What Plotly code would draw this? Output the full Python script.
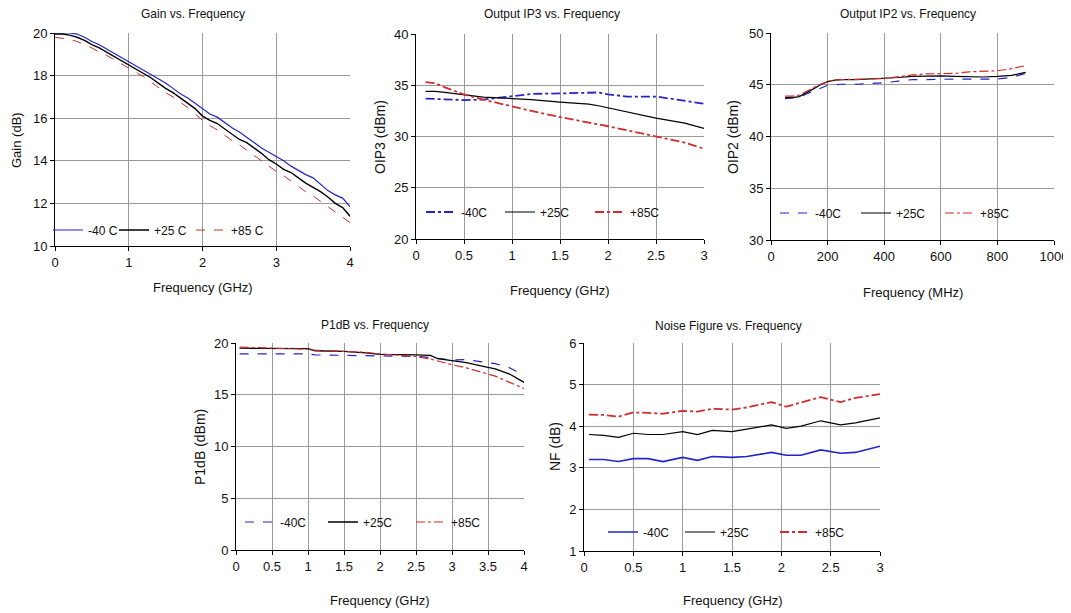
import plotly.graph_objects as go

W, H = 1071, 613
OFF = 8  # page body margin in the browser

# ---------------- data ----------------
gain_x = [round(i * 0.1, 1) for i in range(41)]
gain_m40 = [20.0, 20.0, 20.0, 19.95, 19.8, 19.6, 19.45, 19.25, 19.05, 18.85, 18.65, 18.45, 18.25, 18.05,
            17.85, 17.65, 17.4, 17.15, 16.95, 16.7, 16.45, 16.2, 16.05, 15.8, 15.55, 15.35, 15.1, 14.85,
            14.6, 14.4, 14.2, 14.0, 13.75, 13.55, 13.35, 13.2, 12.9, 12.6, 12.4, 12.25, 11.85]
gain_p25 = [19.95, 19.95, 19.9, 19.8, 19.65, 19.45, 19.3, 19.1, 18.9, 18.7, 18.5, 18.3, 18.1, 17.9,
            17.65, 17.4, 17.2, 16.95, 16.7, 16.45, 16.1, 15.9, 15.75, 15.5, 15.25, 15.0, 14.85, 14.6,
            14.35, 14.05, 13.85, 13.6, 13.45, 13.2, 12.95, 12.75, 12.55, 12.3, 12.0, 11.8, 11.4]
gain_p85 = [19.8, 19.75, 19.7, 19.6, 19.45, 19.3, 19.1, 18.95, 18.75, 18.55, 18.35, 18.15, 17.95, 17.7,
            17.45, 17.2, 17.0, 16.75, 16.5, 16.2, 15.9, 15.65, 15.45, 15.2, 14.95, 14.75, 14.5, 14.25,
            14.0, 13.75, 13.5, 13.3, 13.05, 12.8, 12.55, 12.35, 12.1, 11.85, 11.6, 11.35, 11.1]

oip3_x = [0.1, 0.2, 0.3, 0.5, 0.7, 1.0, 1.1, 1.2, 1.5, 1.8, 1.9, 2.0, 2.2, 2.5, 2.8, 3.0]
oip3_m40 = [33.7, 33.65, 33.6, 33.55, 33.6, 33.9, 34.0, 34.15, 34.2, 34.3, 34.3, 34.1, 33.9, 33.9, 33.5, 33.2]
oip3_p25 = [34.4, 34.4, 34.3, 34.1, 33.85, 33.7, 33.65, 33.6, 33.35, 33.15, 33.0, 32.8, 32.4, 31.8, 31.3, 30.8]
oip3_p85 = [35.3, 35.2, 34.8, 34.1, 33.6, 32.9, 32.7, 32.5, 31.9, 31.4, 31.2, 31.0, 30.6, 30.0, 29.4, 28.8]

oip2_x = [50, 75, 100, 125, 150, 175, 200, 225, 250, 300, 350, 400, 450, 500, 550, 600, 650, 700, 750, 800, 850, 900]
oip2_m40 = [43.65, 43.7, 43.8, 44.1, 44.4, 44.7, 44.95, 45.0, 45.05, 45.05, 45.1, 45.2, 45.35, 45.5, 45.5,
            45.55, 45.55, 45.55, 45.55, 45.55, 45.7, 46.1]
oip2_p25 = [43.75, 43.75, 43.85, 44.2, 44.6, 45.0, 45.3, 45.45, 45.5, 45.5, 45.55, 45.6, 45.7, 45.8, 45.85,
            45.85, 45.8, 45.75, 45.75, 45.8, 45.9, 46.2]
oip2_p85 = [43.9, 43.9, 44.0, 44.35, 44.7, 45.05, 45.3, 45.45, 45.5, 45.5, 45.55, 45.6, 45.8, 45.95, 46.05,
            46.05, 46.1, 46.25, 46.3, 46.35, 46.55, 46.85]

p1db_x = [0.05, 0.5, 1.0, 1.1, 1.5, 1.8, 2.0, 2.5, 2.7, 2.8, 3.0, 3.2, 3.4, 3.6, 3.8, 4.0]
p1db_m40 = [18.95, 18.95, 18.95, 18.85, 18.8, 18.75, 18.7, 18.7, 18.6, 18.5, 18.35, 18.4, 18.2, 18.0, 17.6, 16.85]
p1db_p25 = [19.5, 19.5, 19.45, 19.25, 19.2, 19.05, 18.9, 18.85, 18.8, 18.5, 18.3, 18.1, 17.8, 17.5, 17.0, 16.2]
p1db_p85 = [19.6, 19.5, 19.4, 19.3, 19.15, 19.1, 18.95, 18.7, 18.45, 18.25, 17.9, 17.6, 17.2, 16.8, 16.2, 15.6]

nf_x = [0.05, 0.2, 0.35, 0.5, 0.65, 0.8, 1.0, 1.15, 1.3, 1.5, 1.65, 1.9, 2.05, 2.2, 2.4, 2.6, 2.75, 3.0]
nf_m40 = [3.2, 3.2, 3.15, 3.22, 3.22, 3.15, 3.25, 3.18, 3.27, 3.25, 3.27, 3.37, 3.3, 3.3, 3.43, 3.35, 3.37, 3.52]
nf_p25 = [3.8, 3.78, 3.73, 3.83, 3.8, 3.8, 3.87, 3.8, 3.9, 3.87, 3.93, 4.03, 3.95, 4.0, 4.13, 4.03, 4.08, 4.2]
nf_p85 = [4.28, 4.27, 4.23, 4.33, 4.32, 4.3, 4.37, 4.35, 4.42, 4.4, 4.45, 4.58, 4.47, 4.57, 4.7, 4.58, 4.68, 4.77]

series_names = ["-40 C", "+25 C", "+85 C"]
series_names_b = ["-40C", "+25C", "+85C"]

BLUE = "#2424c8"
BLACK = "#000000"
RED = "#d42a2a"
FONT = "Liberation Sans Narrow, Arial Narrow, Liberation Sans, Arial, sans-serif"

fig = go.Figure()

def px_x(p):
    return (p - OFF) / W

def px_y(p):
    return 1 - (p - OFF) / H

panels = [
    dict(xa="x", ya="y", xd=(55, 350), yd=(33, 246), xr=[0, 4], xdt=1, yr=[10, 20], ydt=2),
    dict(xa="x2", ya="y2", xd=(416, 704), yd=(34, 239), xr=[0, 3], xdt=0.5, yr=[20, 40], ydt=5),
    dict(xa="x3", ya="y3", xd=(771, 1054), yd=(33, 240), xr=[0, 1000], xdt=200, yr=[30, 50], ydt=5),
    dict(xa="x4", ya="y4", xd=(236, 524), yd=(343, 550), xr=[0, 4], xdt=0.5, yr=[0, 20], ydt=5),
    dict(xa="x5", ya="y5", xd=(584, 880), yd=(343, 551), xr=[0, 3], xdt=0.5, yr=[1, 6], ydt=1),
]

layout = {}
for i, p in enumerate(panels):
    n = "" if i == 0 else str(i + 1)
    layout["xaxis" + n] = dict(
        domain=[px_x(p["xd"][0]), px_x(p["xd"][1])], range=p["xr"], dtick=p["xdt"], tick0=0,
        anchor=p["ya"], showline=True, linecolor="black", linewidth=1, ticks="outside", ticklen=4,
        tickcolor="black", showgrid=True, gridcolor="#9a9a9a", gridwidth=1, zeroline=False,
        tickfont=dict(size=13, color="#111", family=FONT), mirror=False, fixedrange=True)
    layout["yaxis" + n] = dict(
        domain=[px_y(p["yd"][1]), px_y(p["yd"][0])], range=p["yr"], dtick=p["ydt"], tick0=0,
        anchor=p["xa"], showline=True, linecolor="black", linewidth=1, ticks="outside", ticklen=4,
        tickcolor="black", showgrid=True, gridcolor="#9a9a9a", gridwidth=1, zeroline=False,
        tickfont=dict(size=13, color="#111", family=FONT), fixedrange=True)

legend_count = [0]

def legend_at(text_start_px, yp):
    return dict(x=px_x(text_start_px - 42), y=px_y(yp), xanchor="left", yanchor="middle",
                orientation="h", bgcolor="rgba(0,0,0,0)", borderwidth=0, itemwidth=30,
                font=dict(size=12, color="#111", family=FONT), tracegroupgap=0, itemclick=False)

def add(x, y, name, color, dash, width, xa, ya, text_start_px, legend_y_px):
    legend_count[0] += 1
    k = legend_count[0]
    lname = "legend" if k == 1 else "legend%d" % k
    layout[lname] = legend_at(text_start_px, legend_y_px)
    fig.add_trace(go.Scatter(x=x, y=y, name=name, mode="lines",
                             line=dict(color=color, dash=dash, width=width),
                             xaxis=xa, yaxis=ya, legend=lname))

# Gain
add(gain_x, gain_m40, series_names[0], BLUE, "solid", 1.2, "x", "y", 90, 230)
add(gain_x, gain_p25, series_names[1], BLACK, "solid", 1.4, "x", "y", 156, 230)
add(gain_x, gain_p85, series_names[2], RED, "dash", 1.0, "x", "y", 233, 230)
# OIP3
add(oip3_x, oip3_m40, series_names_b[0], BLUE, "dashdot", 1.8, "x2", "y2", 463, 212)
add(oip3_x, oip3_p25, series_names_b[1], BLACK, "solid", 1.2, "x2", "y2", 542, 212)
add(oip3_x, oip3_p85, series_names_b[2], RED, "dashdot", 1.8, "x2", "y2", 632, 212)
# OIP2
add(oip2_x, oip2_m40, series_names_b[0], BLUE, "dash", 1.2, "x3", "y3", 817, 213)
add(oip2_x, oip2_p25, series_names_b[1], BLACK, "solid", 1.2, "x3", "y3", 898, 213)
add(oip2_x, oip2_p85, series_names_b[2], RED, "dashdot", 1.2, "x3", "y3", 982, 213)
# P1dB
add(p1db_x, p1db_m40, series_names_b[0], BLUE, "dash", 1.2, "x4", "y4", 282, 522)
add(p1db_x, p1db_p25, series_names_b[1], BLACK, "solid", 1.3, "x4", "y4", 365, 522)
add(p1db_x, p1db_p85, series_names_b[2], RED, "dashdot", 1.2, "x4", "y4", 453, 522)
# NF
add(nf_x, nf_m40, series_names_b[0], BLUE, "solid", 1.6, "x5", "y5", 645, 532)
add(nf_x, nf_p25, series_names_b[1], BLACK, "solid", 1.2, "x5", "y5", 722, 532)
add(nf_x, nf_p85, series_names_b[2], RED, "dashdot", 1.8, "x5", "y5", 817, 532)

annotations = []
def text(xp, yp, s, size=12, angle=0):
    annotations.append(dict(x=px_x(xp), y=px_y(yp), xref="paper", yref="paper", text=s,
                            showarrow=False, textangle=angle, xanchor="center", yanchor="middle",
                            font=dict(size=size, color="#111", family=FONT)))

# titles
text(193, 14, "Gain vs. Frequency")
text(552, 14, "Output IP3 vs. Frequency")
text(908, 14, "Output IP2 vs. Frequency")
text(375, 325, "P1dB vs. Frequency")
text(728, 326, "Noise Figure vs. Frequency")
# x-axis titles
text(203, 288, "Frequency (GHz)", 13)
text(560, 290, "Frequency (GHz)", 13)
text(913, 292, "Frequency (MHz)", 13)
text(380, 600, "Frequency (GHz)", 13)
text(733, 600, "Frequency (GHz)", 13)
# y-axis titles
text(16, 140, "Gain (dB)", 13, -90)
text(380, 137, "OIP3 (dBm)", 14, -90)
text(733, 137, "OIP2 (dBm)", 14, -90)
text(200, 447, "P1dB (dBm)", 14, -90)
text(555, 447, "NF (dB)", 14, -90)

layout["annotations"] = annotations
layout["width"] = W
layout["height"] = H
layout["margin"] = dict(l=0, r=0, t=0, b=0, autoexpand=False)
layout["paper_bgcolor"] = "white"
layout["plot_bgcolor"] = "white"
layout["showlegend"] = True

fig.update_layout(**layout)
fig.write_html("out.html")
